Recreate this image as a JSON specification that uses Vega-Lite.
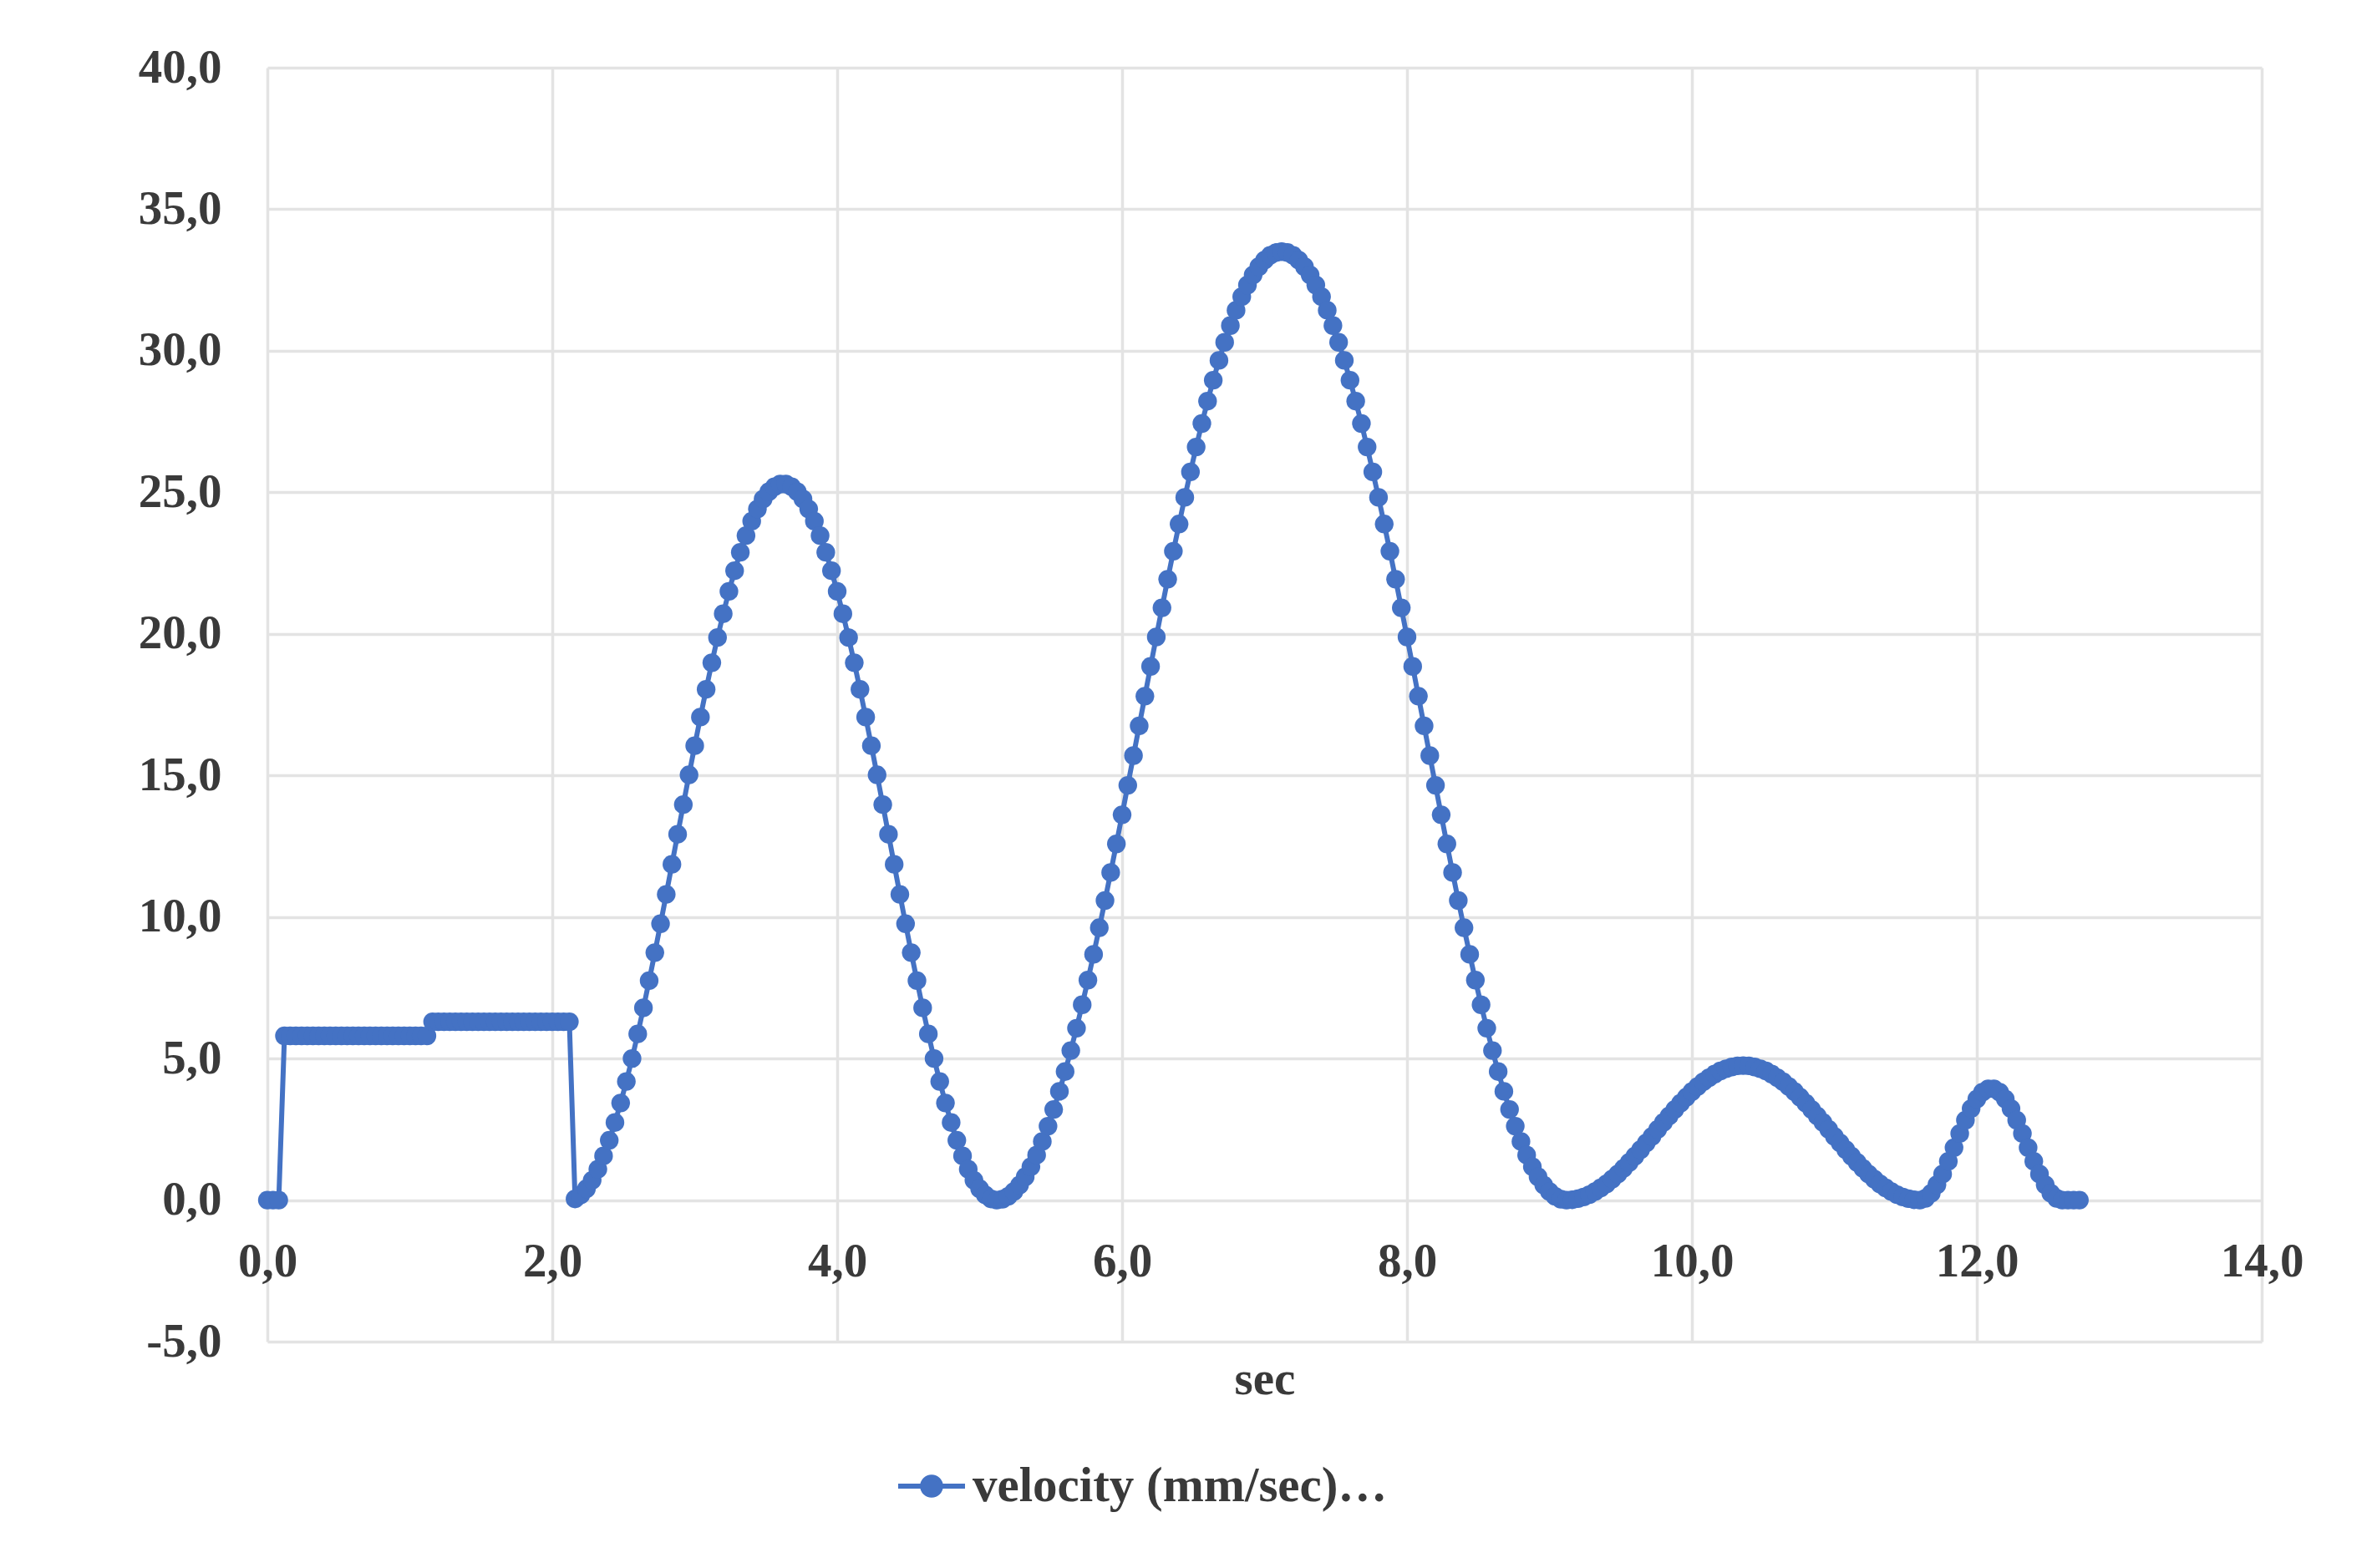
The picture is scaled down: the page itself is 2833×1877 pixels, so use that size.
{
"$schema": "https://vega.github.io/schema/vega-lite/v6.json",
"width": 2387,
"height": 1525,
"autosize": {"type": "none"},
"padding": {"left": 320, "top": 81, "right": 126, "bottom": 271},
"background": "white",
"config": {"view": {"stroke": null}, "font": "Liberation Serif"},
"data": {"values": [
{"t":0,"v":0},{"t":0.04,"v":0},{"t":0.08,"v":0},
{"t":0.12,"v":5.8},{"t":0.16,"v":5.8},{"t":0.2,"v":5.8},{"t":0.24,"v":5.8},{"t":0.28,"v":5.8},{"t":0.32,"v":5.8},{"t":0.36,"v":5.8},{"t":0.4,"v":5.8},{"t":0.44,"v":5.8},{"t":0.48,"v":5.8},{"t":0.52,"v":5.8},{"t":0.56,"v":5.8},{"t":0.6,"v":5.8},{"t":0.64,"v":5.8},{"t":0.68,"v":5.8},{"t":0.72,"v":5.8},{"t":0.76,"v":5.8},{"t":0.8,"v":5.8},{"t":0.84,"v":5.8},{"t":0.88,"v":5.8},{"t":0.92,"v":5.8},{"t":0.96,"v":5.8},{"t":1.0,"v":5.8},{"t":1.04,"v":5.8},{"t":1.08,"v":5.8},{"t":1.12,"v":5.8},
{"t":1.16,"v":6.3},{"t":1.2,"v":6.3},{"t":1.24,"v":6.3},{"t":1.28,"v":6.3},{"t":1.32,"v":6.3},{"t":1.36,"v":6.3},{"t":1.4,"v":6.3},{"t":1.44,"v":6.3},{"t":1.48,"v":6.3},{"t":1.52,"v":6.3},{"t":1.56,"v":6.3},{"t":1.6,"v":6.3},{"t":1.64,"v":6.3},{"t":1.68,"v":6.3},{"t":1.72,"v":6.3},{"t":1.76,"v":6.3},{"t":1.8,"v":6.3},{"t":1.84,"v":6.3},{"t":1.88,"v":6.3},{"t":1.92,"v":6.3},{"t":1.96,"v":6.3},{"t":2.0,"v":6.3},{"t":2.04,"v":6.3},{"t":2.08,"v":6.3},{"t":2.12,"v":6.3},
{"t":2.16,"v":0.04},{"t":2.2,"v":0.18},{"t":2.24,"v":0.4},{"t":2.28,"v":0.7},{"t":2.32,"v":1.09},{"t":2.36,"v":1.56},{"t":2.4,"v":2.11},{"t":2.44,"v":2.74},{"t":2.48,"v":3.43},{"t":2.52,"v":4.19},{"t":2.56,"v":5.0},{"t":2.6,"v":5.87},{"t":2.64,"v":6.79},{"t":2.68,"v":7.75},{"t":2.72,"v":8.74},{"t":2.76,"v":9.76},{"t":2.8,"v":10.8},{"t":2.84,"v":11.86},{"t":2.88,"v":12.92},{"t":2.92,"v":13.97},{"t":2.96,"v":15.02},{"t":3.0,"v":16.05},{"t":3.04,"v":17.06},{"t":3.08,"v":18.04},{"t":3.12,"v":18.98},{"t":3.16,"v":19.87},{"t":3.2,"v":20.71},{"t":3.24,"v":21.5},{"t":3.28,"v":22.23},{"t":3.32,"v":22.88},{"t":3.36,"v":23.47},{"t":3.4,"v":23.98},{"t":3.44,"v":24.41},{"t":3.48,"v":24.76},{"t":3.52,"v":25.02},{"t":3.56,"v":25.2},{"t":3.6,"v":25.29},{"t":3.64,"v":25.29},{"t":3.68,"v":25.2},{"t":3.72,"v":25.02},{"t":3.76,"v":24.76},{"t":3.8,"v":24.41},{"t":3.84,"v":23.98},{"t":3.88,"v":23.47},{"t":3.92,"v":22.88},{"t":3.96,"v":22.23},{"t":4.0,"v":21.5},{"t":4.04,"v":20.71},{"t":4.08,"v":19.87},{"t":4.12,"v":18.98},{"t":4.16,"v":18.04},{"t":4.2,"v":17.06},{"t":4.24,"v":16.05},{"t":4.28,"v":15.02},{"t":4.32,"v":13.97},{"t":4.36,"v":12.92},{"t":4.4,"v":11.86},{"t":4.44,"v":10.8},{"t":4.48,"v":9.76},{"t":4.52,"v":8.74},{"t":4.56,"v":7.75},{"t":4.6,"v":6.79},{"t":4.64,"v":5.87},{"t":4.68,"v":5.0},{"t":4.72,"v":4.19},{"t":4.76,"v":3.43},{"t":4.8,"v":2.74},{"t":4.84,"v":2.11},{"t":4.88,"v":1.56},{"t":4.92,"v":1.09},{"t":4.96,"v":0.7},{"t":5.0,"v":0.4},{"t":5.04,"v":0.18},{"t":5.08,"v":0.04},{"t":5.12,"v":0},
{"t":5.16,"v":0.03},{"t":5.2,"v":0.13},{"t":5.24,"v":0.3},{"t":5.28,"v":0.53},{"t":5.32,"v":0.82},{"t":5.36,"v":1.18},{"t":5.4,"v":1.59},{"t":5.44,"v":2.07},{"t":5.48,"v":2.61},{"t":5.52,"v":3.2},{"t":5.56,"v":3.84},{"t":5.6,"v":4.54},{"t":5.64,"v":5.28},{"t":5.68,"v":6.07},{"t":5.72,"v":6.9},{"t":5.76,"v":7.77},{"t":5.8,"v":8.68},{"t":5.84,"v":9.62},{"t":5.88,"v":10.58},{"t":5.92,"v":11.57},{"t":5.96,"v":12.58},{"t":6.0,"v":13.61},{"t":6.04,"v":14.65},{"t":6.08,"v":15.7},{"t":6.12,"v":16.75},{"t":6.16,"v":17.8},{"t":6.2,"v":18.85},{"t":6.24,"v":19.89},{"t":6.28,"v":20.92},{"t":6.32,"v":21.93},{"t":6.36,"v":22.92},{"t":6.4,"v":23.88},{"t":6.44,"v":24.82},{"t":6.48,"v":25.72},{"t":6.52,"v":26.6},{"t":6.56,"v":27.43},{"t":6.6,"v":28.22},{"t":6.64,"v":28.96},{"t":6.68,"v":29.66},{"t":6.72,"v":30.3},{"t":6.76,"v":30.89},{"t":6.8,"v":31.43},{"t":6.84,"v":31.91},{"t":6.88,"v":32.32},{"t":6.92,"v":32.68},{"t":6.96,"v":32.97},{"t":7.0,"v":33.2},{"t":7.04,"v":33.37},{"t":7.08,"v":33.47},{"t":7.12,"v":33.5},{"t":7.16,"v":33.47},{"t":7.2,"v":33.37},{"t":7.24,"v":33.2},{"t":7.28,"v":32.97},{"t":7.32,"v":32.68},{"t":7.36,"v":32.32},{"t":7.4,"v":31.91},{"t":7.44,"v":31.43},{"t":7.48,"v":30.89},{"t":7.52,"v":30.3},{"t":7.56,"v":29.66},{"t":7.6,"v":28.96},{"t":7.64,"v":28.22},{"t":7.68,"v":27.43},{"t":7.72,"v":26.6},{"t":7.76,"v":25.72},{"t":7.8,"v":24.82},{"t":7.84,"v":23.88},{"t":7.88,"v":22.92},{"t":7.92,"v":21.93},{"t":7.96,"v":20.92},{"t":8.0,"v":19.89},{"t":8.04,"v":18.85},{"t":8.08,"v":17.8},{"t":8.12,"v":16.75},{"t":8.16,"v":15.7},{"t":8.2,"v":14.65},{"t":8.24,"v":13.61},{"t":8.28,"v":12.58},{"t":8.32,"v":11.57},{"t":8.36,"v":10.58},{"t":8.4,"v":9.62},{"t":8.44,"v":8.68},{"t":8.48,"v":7.77},{"t":8.52,"v":6.9},{"t":8.56,"v":6.07},{"t":8.6,"v":5.28},{"t":8.64,"v":4.54},{"t":8.68,"v":3.84},{"t":8.72,"v":3.2},{"t":8.76,"v":2.61},{"t":8.8,"v":2.07},{"t":8.84,"v":1.59},{"t":8.88,"v":1.18},{"t":8.92,"v":0.82},{"t":8.96,"v":0.53},{"t":9.0,"v":0.3},{"t":9.04,"v":0.13},{"t":9.08,"v":0.03},{"t":9.12,"v":0},
{"t":9.16,"v":0.01},{"t":9.2,"v":0.05},{"t":9.24,"v":0.11},{"t":9.28,"v":0.19},{"t":9.32,"v":0.3},{"t":9.36,"v":0.43},{"t":9.4,"v":0.57},{"t":9.44,"v":0.74},{"t":9.48,"v":0.92},{"t":9.52,"v":1.12},{"t":9.56,"v":1.33},{"t":9.6,"v":1.55},{"t":9.64,"v":1.78},{"t":9.68,"v":2.02},{"t":9.72,"v":2.25},{"t":9.76,"v":2.5},{"t":9.8,"v":2.74},{"t":9.84,"v":2.97},{"t":9.88,"v":3.2},{"t":9.92,"v":3.42},{"t":9.96,"v":3.63},{"t":10.0,"v":3.83},{"t":10.04,"v":4.01},{"t":10.08,"v":4.18},{"t":10.12,"v":4.32},{"t":10.16,"v":4.45},{"t":10.2,"v":4.56},{"t":10.24,"v":4.64},{"t":10.28,"v":4.7},{"t":10.32,"v":4.74},{"t":10.36,"v":4.75},{"t":10.4,"v":4.74},{"t":10.44,"v":4.7},{"t":10.48,"v":4.64},{"t":10.52,"v":4.56},{"t":10.56,"v":4.45},{"t":10.6,"v":4.32},{"t":10.64,"v":4.18},{"t":10.68,"v":4.01},{"t":10.72,"v":3.83},{"t":10.76,"v":3.63},{"t":10.8,"v":3.42},{"t":10.84,"v":3.2},{"t":10.88,"v":2.97},{"t":10.92,"v":2.74},{"t":10.96,"v":2.5},{"t":11.0,"v":2.25},{"t":11.04,"v":2.02},{"t":11.08,"v":1.78},{"t":11.12,"v":1.55},{"t":11.16,"v":1.33},{"t":11.2,"v":1.12},{"t":11.24,"v":0.92},{"t":11.28,"v":0.74},{"t":11.32,"v":0.57},{"t":11.36,"v":0.43},{"t":11.4,"v":0.3},{"t":11.44,"v":0.19},{"t":11.48,"v":0.11},{"t":11.52,"v":0.05},{"t":11.56,"v":0.01},{"t":11.6,"v":0},
{"t":11.64,"v":0.06},{"t":11.68,"v":0.24},{"t":11.72,"v":0.54},{"t":11.76,"v":0.92},{"t":11.8,"v":1.37},{"t":11.84,"v":1.85},{"t":11.88,"v":2.35},{"t":11.92,"v":2.82},{"t":11.96,"v":3.23},{"t":12.0,"v":3.57},{"t":12.04,"v":3.81},{"t":12.08,"v":3.93},{"t":12.12,"v":3.93},{"t":12.16,"v":3.81},{"t":12.2,"v":3.57},{"t":12.24,"v":3.23},{"t":12.28,"v":2.82},{"t":12.32,"v":2.35},{"t":12.36,"v":1.85},{"t":12.4,"v":1.37},{"t":12.44,"v":0.92},{"t":12.48,"v":0.54},{"t":12.52,"v":0.24},{"t":12.56,"v":0.06},{"t":12.6,"v":0},
{"t":12.64,"v":0},{"t":12.68,"v":0},{"t":12.72,"v":0}
]},
"encoding": {
  "x": {"field": "t", "type": "quantitative",
    "scale": {"domain": [0, 14], "nice": false, "zero": false},
    "axis": {"values": [0, 2, 4, 6, 8, 10, 12, 14], "offset": -169.5,
      "grid": true, "gridColor": "#e3e3e3", "gridWidth": 3.5,
      "domain": false, "ticks": false, "tickSize": 0,
      "labelPadding": 46, "labelFlush": false, "labelOverlap": false,
      "labelFont": "Liberation Serif", "labelFontWeight": "bold", "labelFontSize": 57, "labelColor": "#3a3a3a",
      "labelExpr": "(datum.value < 0 ? '-' : '') + replace(format(abs(datum.value), '.1f'), '.', ',')",
      "title": "sec", "titleFont": "Liberation Serif", "titleFontWeight": "bold", "titleFontSize": 57, "titleColor": "#3a3a3a", "titlePadding": 85}},
  "y": {"field": "v", "type": "quantitative",
    "scale": {"domain": [-5, 40], "nice": false, "zero": false},
    "axis": {"values": [-5, 0, 5, 10, 15, 20, 25, 30, 35, 40],
      "grid": true, "gridColor": "#e3e3e3", "gridWidth": 3.5,
      "domain": false, "ticks": false, "tickSize": 0,
      "labelPadding": 55, "labelFlush": false, "labelOverlap": false,
      "labelFont": "Liberation Serif", "labelFontWeight": "bold", "labelFontSize": 57, "labelColor": "#3a3a3a",
      "labelExpr": "(datum.value < 0 ? '-' : '') + replace(format(abs(datum.value), '.1f'), '.', ',')",
      "title": null}},
  "color": {"datum": "velocity (mm/sec)…", "type": "nominal",
    "scale": {"range": ["#4472C4"]},
    "legend": {"orient": "none", "legendX": 752, "legendY": 1655, "title": null, "padding": 0,
      "symbolType": "M-1,0L1,0M0.27,0A0.27,0.27,0,1,1,-0.27,0A0.27,0.27,0,1,1,0.27,0Z",
      "symbolSize": 6400, "symbolStrokeWidth": 6, "symbolFillColor": "#4472C4", "symbolStrokeColor": "#4472C4",
      "labelFont": "Liberation Serif", "labelFontWeight": "bold", "labelFontSize": 59, "labelColor": "#3a3a3a",
      "labelLimit": 0, "labelOffset": 6,
      "encode": {"symbols": {"update": {"fill": {"value": "#4472C4"}, "stroke": {"value": "#4472C4"}, "strokeWidth": {"value": 6}, "opacity": {"value": 1}}}}}}
},
"layer": [
  {"mark": {"type": "line", "strokeWidth": 6}},
  {"mark": {"type": "point", "filled": true, "size": 500, "opacity": 1}}
]
}
